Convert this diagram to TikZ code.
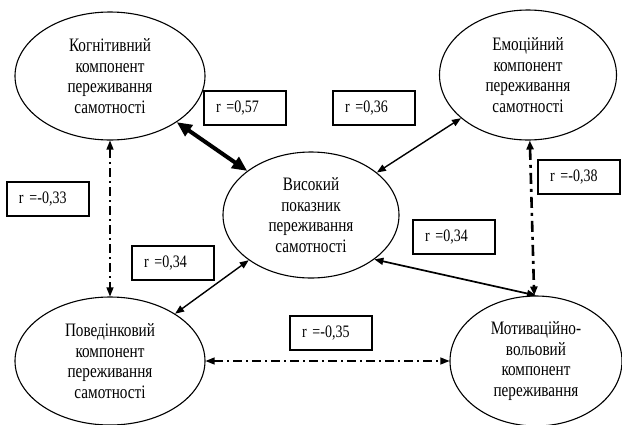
\documentclass[tikz,border=0pt]{standalone}
\usepackage{fontspec}
\setmainfont{Liberation Serif}[FakeStretch=0.8]
\usetikzlibrary{shapes.geometric,arrows.meta}

\begin{document}
\begin{tikzpicture}
    \tikzset{
        comp/.style={ellipse,draw,line width=1.1pt,inner sep=0mm,align=center,
            font=\fontsize{19}{20.5}\selectfont},
        rbox/.style={rectangle,draw,line width=1.1pt,text width=58pt,inner xsep=12pt,
            minimum height=34pt,font=\fontsize{17.5}{19}\selectfont},
        link/.style={{Triangle[length=9pt,width=7pt]}-{Triangle[length=9pt,width=7pt]},
            line width=1.4pt},
        biglink/.style={{Triangle[length=15pt,width=13pt]}-{Triangle[length=15pt,width=13pt]},
            line width=4pt},
        dashdot/.style={dash pattern=on 9pt off 4pt on 2pt off 4pt},
        x={(1pt,0pt)},
        y={(0pt,-1pt)}
    }
    \useasboundingbox (0,0) rectangle (622,424);
    % components
    \node[comp,minimum width=190pt,minimum height=128pt] (cog) at (110,76)
        {Когнітивний\\компонент\\переживання\\самотності};
    \node[comp,minimum width=177pt,minimum height=130pt] (emo) at (528,75)
        {Емоційний\\компонент\\переживання\\самотності};
    \node[comp,minimum width=176pt,minimum height=126pt] (hi) at (311,215)
        {Високий\\показник\\переживання\\самотності};
    \node[comp,minimum width=190pt,minimum height=128pt] (beh) at (110,361)
        {Поведінковий\\компонент\\переживання\\самотності};
    \node[comp,minimum width=172pt,minimum height=130pt] (mot) at (536,361)
        {Мотиваційно-\\вольовий\\компонент\\переживання};
    % links
    \draw[biglink] (cog) -- (hi);
    \draw[link] (hi) -- (emo);
    \draw[link] (hi) -- (beh);
    \draw[link,line width=1.7pt] (hi.-35) -- (mot.north);
    \draw[link,dashdot,line width=1.2pt] (cog) -- (beh);
    \draw[link,dashdot,line width=1.2pt] (beh) -- (mot);
    \draw[link,line width=2.6pt,dash pattern=on 11pt off 5pt on 3pt off 5pt] (emo) -- (mot);
    % coefficients
    \node[rbox] (r57) at (245,108) {r =0,57};
    \node[rbox] (r36) at (374,108) {r =0,36};
    \node[rbox] (r33) at (48,199) {r =-0,33};
    \node[rbox] (r38) at (579,177) {r =-0,38};
    \node[rbox] (r34a) at (173,263) {r =0,34};
    \node[rbox] (r34b) at (454,237) {r =0,34};
    \node[rbox] (r35) at (331,333) {r =-0,35};
\end{tikzpicture}
\end{document}
